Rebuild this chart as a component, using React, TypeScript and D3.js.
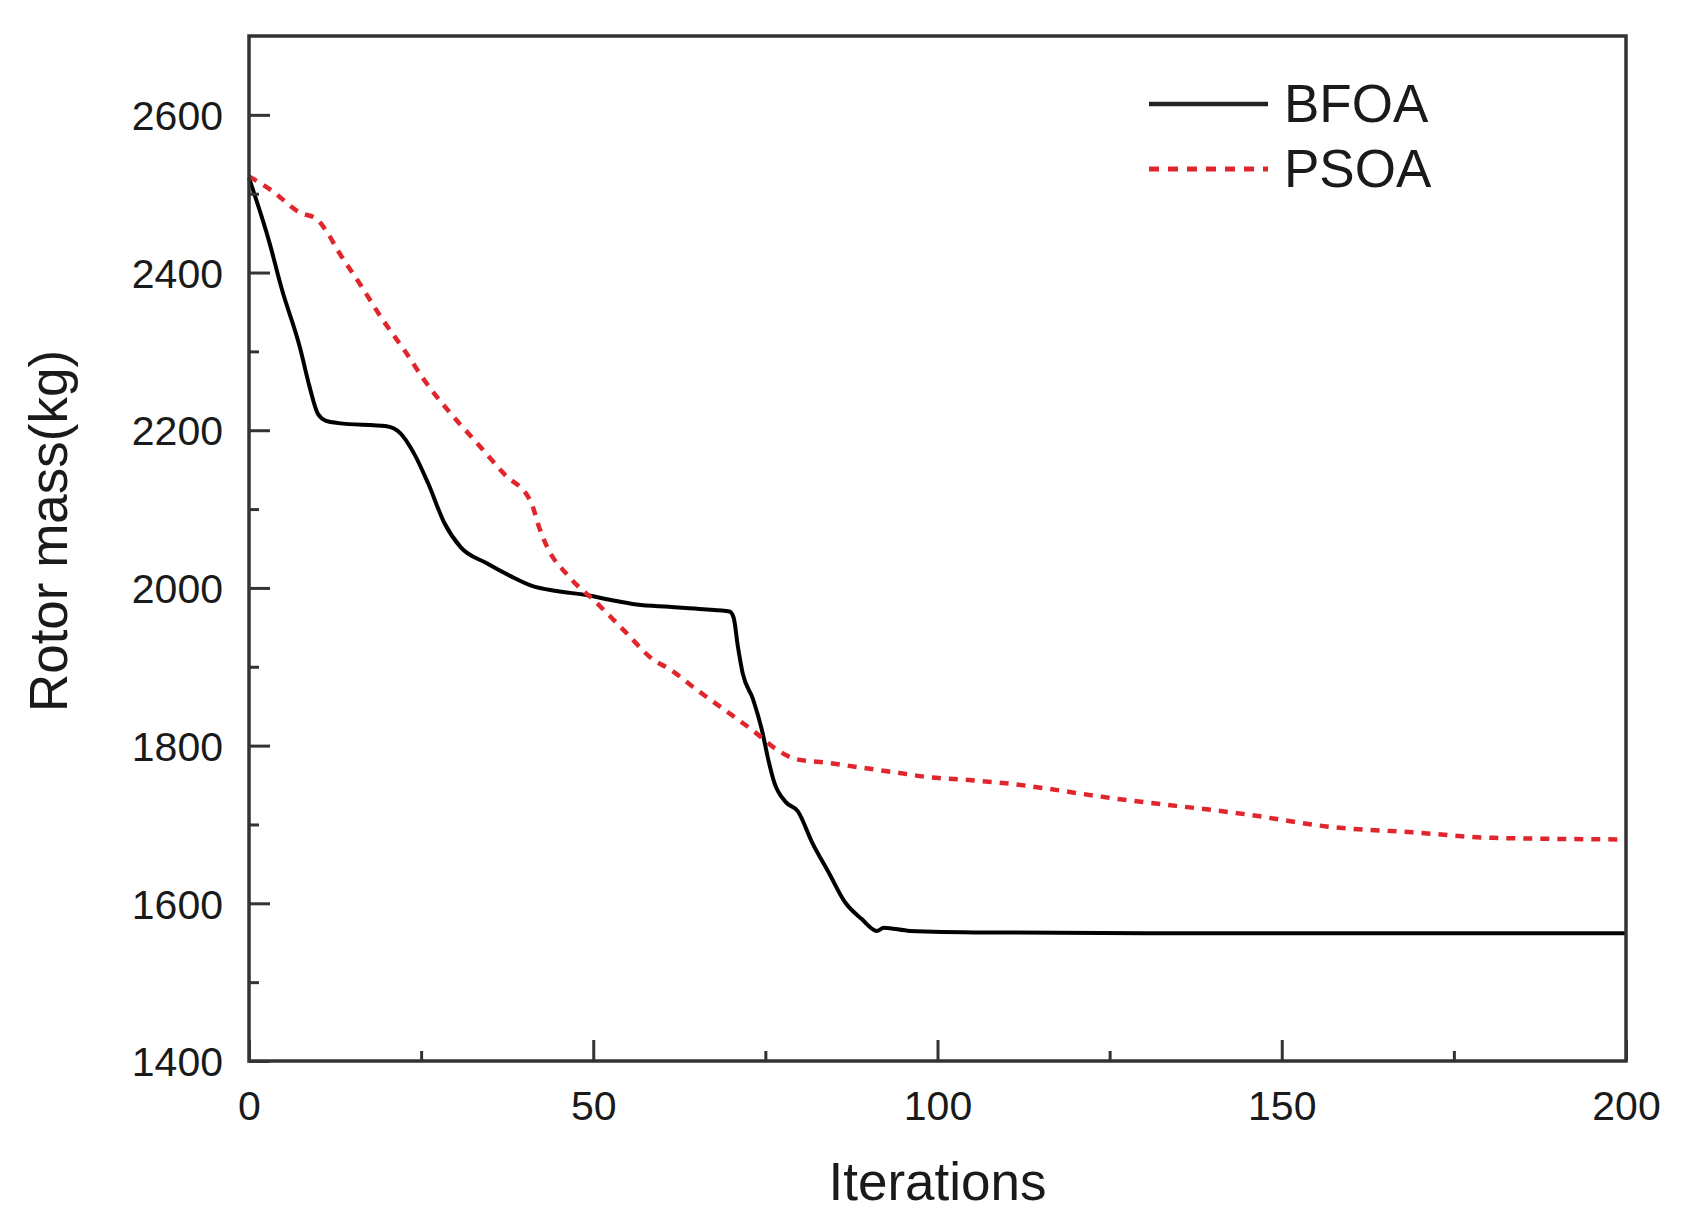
import React, { useRef, useEffect } from "react";
import * as d3 from "d3";

// BFOA convergence curve (iteration, rotor mass kg)
const bfoaIter = [0, 3, 4.7, 7.4, 8.8, 10, 11.2, 13, 20, 22, 24, 26, 28.4, 30.7, 34.6, 38, 41, 44.7, 49, 52.4, 56.3, 61, 66, 69.8, 70.4, 71, 71.7, 73.2, 74.6, 75.3, 76.3, 78, 79.7, 81.8, 84.2, 86.6, 89, 91.2, 92.2, 96, 108, 130, 200];
const bfoaMass = [2520, 2437, 2381, 2305, 2255, 2221, 2212, 2209, 2205, 2196, 2170, 2133, 2082, 2052, 2031, 2015, 2003, 1996, 1991, 1985, 1979, 1976, 1973, 1970, 1962, 1926, 1892, 1859, 1816, 1787, 1753, 1728, 1717, 1677, 1639, 1601, 1580, 1565, 1569, 1565, 1563, 1562, 1562];

// PSOA convergence curve
const psoaIter = [0, 3.3, 7.4, 9.8, 11.5, 12.9, 16.3, 19.2, 22.6, 25.5, 29.3, 33.2, 37, 41, 42.1, 43.3, 46.4, 50.5, 54.8, 58.7, 61.1, 65, 69.3, 73.2, 77, 79.4, 84.2, 89, 93.9, 98.7, 103.5, 109, 126.5, 144.7, 157, 169, 180.7, 200];
const psoaMass = [2522, 2504, 2476, 2468, 2449, 2428, 2383, 2343, 2301, 2263, 2221, 2183, 2145, 2108, 2078, 2052, 2015, 1981, 1943, 1909, 1897, 1871, 1844, 1819, 1793, 1783, 1778, 1772, 1766, 1760, 1757, 1753, 1732, 1713, 1697, 1690, 1683, 1681];

const xMajor = [0, 50, 100, 150, 200];
const xMinor = [25, 75, 125, 175];
const yMajor = [1400, 1600, 1800, 2000, 2200, 2400, 2600];
const yMinor = [1500, 1700, 1900, 2100, 2300, 2500];

const seriesNames = ["BFOA", "PSOA"];

const App: React.FC = () => {
    const svgRef = useRef<SVGSVGElement | null>(null);

    useEffect(() => {
        const width = 1692;
        const height = 1230;
        const left = 249, right = 1626, top = 36, bottom = 1061;
        const font = "'Liberation Sans', Arial, sans-serif";
        const axisColor = "#333";
        const red = "#e0262c";

        const x = d3.scaleLinear().domain([0, 200]).range([left, right]);
        const y = d3.scaleLinear().domain([1400, 2700]).range([bottom, top]);

        const svg = d3.select(svgRef.current);
        svg.selectAll("*").remove();
        svg.attr("width", width).attr("height", height).style("font-family", font);

        svg.append("rect").attr("width", width).attr("height", height).attr("fill", "#fff");

        const line = d3
            .line<[number, number]>()
            .x((d) => x(d[0]))
            .y((d) => y(d[1]))
            .curve(d3.curveMonotoneX);

        const bfoa = bfoaIter.map((v, i) => [v, bfoaMass[i]] as [number, number]);
        const psoa = psoaIter.map((v, i) => [v, psoaMass[i]] as [number, number]);

        svg.append("path")
            .attr("d", line(bfoa)!)
            .attr("fill", "none")
            .attr("stroke", "#000")
            .attr("stroke-width", 4)
            .attr("stroke-linejoin", "round");

        svg.append("path")
            .attr("d", line(psoa)!)
            .attr("fill", "none")
            .attr("stroke", red)
            .attr("stroke-width", 4.5)
            .attr("stroke-dasharray", "9 8");

        // frame
        svg.append("rect")
            .attr("x", left)
            .attr("y", top)
            .attr("width", right - left)
            .attr("height", bottom - top)
            .attr("fill", "none")
            .attr("stroke", axisColor)
            .attr("stroke-width", 3.5);

        // bottom axis, ticks pointing inward
        const xAxis = svg.append("g").attr("transform", `translate(0,${bottom})`);
        xAxis.call(d3.axisBottom(x).tickValues(xMajor).tickSize(-21).tickFormat(d3.format("d")));
        xAxis.append("g").call(d3.axisBottom(x).tickValues(xMinor).tickSize(-10).tickFormat(() => ""));
        xAxis.selectAll(".domain").remove();
        xAxis.selectAll("line").attr("stroke", axisColor).attr("stroke-width", 3);
        xAxis.selectAll("text")
            .attr("y", 59)
            .attr("dy", 0)
            .attr("fill", "#1a1a1a")
            .style("font-size", "41px")
            .style("font-family", font);

        // left axis
        const yAxis = svg.append("g").attr("transform", `translate(${left},0)`);
        yAxis.call(d3.axisLeft(y).tickValues(yMajor).tickSize(-21).tickFormat(d3.format("d")));
        yAxis.append("g").call(d3.axisLeft(y).tickValues(yMinor).tickSize(-10).tickFormat(() => ""));
        yAxis.selectAll(".domain").remove();
        yAxis.selectAll("line").attr("stroke", axisColor).attr("stroke-width", 3);
        yAxis.selectAll("text")
            .attr("x", -26)
            .attr("dy", "0.36em")
            .attr("fill", "#1a1a1a")
            .style("font-size", "41px")
            .style("font-family", font);

        svg.append("text")
            .attr("x", (left + right) / 2)
            .attr("y", 1200)
            .attr("text-anchor", "middle")
            .attr("fill", "#1a1a1a")
            .style("font-size", "53px")
            .text("Iterations");

        svg.append("text")
            .attr("transform", "translate(67,531) rotate(-90)")
            .attr("text-anchor", "middle")
            .attr("fill", "#1a1a1a")
            .style("font-size", "53px")
            .text("Rotor mass(kg)");

        // legend
        const legend = svg.append("g");
        seriesNames.forEach((name, i) => {
            const ly = 104 + i * 65;
            legend.append("line")
                .attr("x1", 1149)
                .attr("x2", 1268)
                .attr("y1", ly)
                .attr("y2", ly)
                .attr("stroke", i === 0 ? "#222" : red)
                .attr("stroke-width", i === 0 ? 4.5 : 5)
                .attr("stroke-dasharray", i === 0 ? null : "10 9");
            legend.append("text")
                .attr("x", 1284)
                .attr("y", ly + 18)
                .attr("fill", "#1a1a1a")
                .style("font-size", "53px")
                .text(name);
        });
    }, []);

    return (
        <div style={{ position: "absolute", left: 0, top: 0 }}>
            <svg ref={svgRef} width="1692" height="1230" />
        </div>
    );
};

export default App;
